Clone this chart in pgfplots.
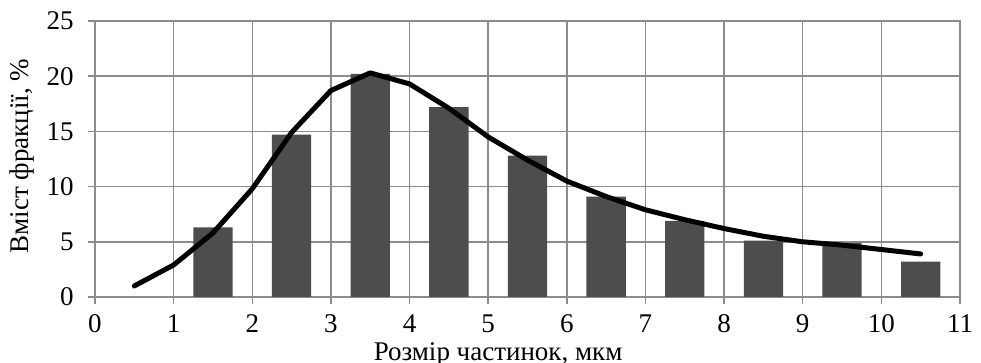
\documentclass[border=0pt]{standalone}
\usepackage{pgfplots}
\pgfplotsset{compat=1.18}
\usepackage{fontspec}
\setmainfont{Liberation Serif}
\definecolor{gridgray}{HTML}{8C8C8C}
\definecolor{bargray}{HTML}{4D4D4D}
\begin{document}
\fontsize{13.5}{15}\selectfont
\begin{tikzpicture}
\begin{axis}[
  name=ax,
  scale only axis,
  width=432.5pt, height=138pt,
  xmin=0, xmax=11, ymin=0, ymax=25,
  xtick={0,1,...,11},
  ytick={0,5,...,25},
  grid=major,
  major grid style={gridgray, line width=0.75pt},
  axis line style={gridgray, line width=0.75pt},
  tick style={gridgray, line width=0.75pt},
  tick align=outside,
  major tick length=3.5pt,
  xtick pos=bottom, ytick pos=left,
  /pgf/number format/assume math mode=true,
  tick label style={font=\fontsize{13.5}{15}\selectfont, black},
  xticklabel style={yshift=-0.5pt},
  yticklabel style={xshift=-2.5pt},
  xlabel={Розмір частинок, мкм},
  ylabel={Вміст фракції, \%},
  label style={font=\fontsize{13.5}{15}\selectfont},
  xlabel style={at={(axis description cs:0.466,0)}, anchor=center, yshift=-28.5pt},
  ylabel style={at={(axis description cs:-0.0845,0.51)}, anchor=center, rotate=0},
  clip=false,
]
\addplot[ybar, bar width=0.5, fill=bargray, draw=none] coordinates {
  (1.5,6.3) (2.5,14.7) (3.5,20.2) (4.5,17.2) (5.5,12.8)
  (6.5,9.1) (7.5,6.9) (8.5,5.1) (9.5,4.9) (10.5,3.2)
};
\addplot[black, line width=2.5pt, line join=round, line cap=round, mark=none] coordinates {
  (0.5,1.0) (1,2.9) (1.5,5.8) (2,9.8) (2.5,14.9) (3,18.7) (3.5,20.3)
  (4,19.3) (4.5,17.1) (5,14.5) (5.5,12.4) (6,10.5) (6.5,9.1) (7,7.9)
  (7.5,7.0) (8,6.2) (8.5,5.5) (9,5.0) (9.5,4.7) (10,4.3) (10.5,3.9)
};
\end{axis}
\pgfresetboundingbox
\path (ax.south west) ++(-47.5pt,-33pt) coordinate (bl);
\path (ax.north east) ++(10.5pt,10.5pt) coordinate (tr);
\useasboundingbox (bl) rectangle (tr);
\end{tikzpicture}
\end{document}
